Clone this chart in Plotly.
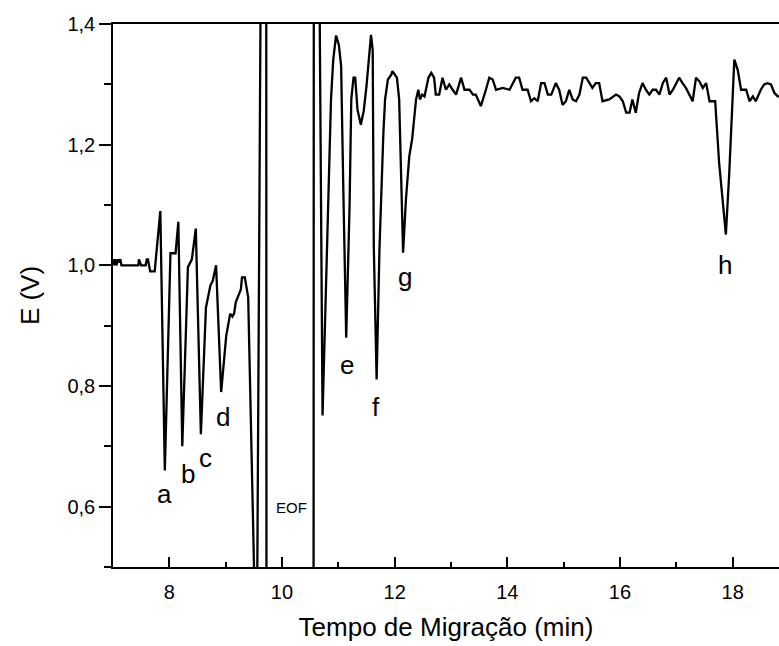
import plotly.graph_objects as go

# Electropherogram trace (time in min, potential in V)
t_pre = [7.00, 7.02, 7.03, 7.05, 7.06, 7.09, 7.10, 7.13, 7.15, 7.20, 7.22, 7.30, 7.40, 7.45, 7.46,
         7.50, 7.58, 7.60, 7.62, 7.64, 7.66, 7.74, 7.84, 7.92, 8.02, 8.11, 8.16, 8.23, 8.33, 8.40,
         8.47, 8.56, 8.65, 8.73, 8.77, 8.83, 8.92, 9.01, 9.05, 9.08, 9.12, 9.15, 9.18, 9.27, 9.29,
         9.34, 9.40, 9.48, 9.52]
e_pre = [1.00, 1.01, 1.00, 1.01, 1.00, 1.01, 1.005, 1.01, 1.00, 1.00, 1.00, 1.00, 1.00, 1.00, 1.01,
         1.00, 1.00, 1.01, 1.01, 1.00, 0.99, 0.99, 1.09, 0.66, 1.02, 1.02, 1.072, 0.70, 0.997, 1.01,
         1.061, 0.72, 0.93, 0.967, 0.974, 1.00, 0.79, 0.883, 0.902, 0.92, 0.915, 0.92, 0.939, 0.96, 0.98,
         0.98, 0.947, 0.596, 0.40]

t_eof = [9.55, 9.63, 9.72, 9.725, 10.56, 10.565, 10.655]
e_eof = [0.30, 1.60, 1.60, 0.30, 0.30, 1.60, 1.60]

t_post = [10.72, 10.80, 10.84, 10.87, 10.91, 10.96, 11.01, 11.05, 11.09, 11.14, 11.20, 11.23, 11.27,
          11.30, 11.34, 11.40, 11.43, 11.45, 11.50, 11.54, 11.58, 11.61, 11.63, 11.68, 11.73, 11.80,
          11.83, 11.88, 11.94, 11.96, 12.01, 12.04, 12.08, 12.15, 12.20, 12.26, 12.31, 12.35, 12.38,
          12.42, 12.45, 12.49, 12.53, 12.60]
e_post = [0.751, 1.03, 1.15, 1.275, 1.341, 1.381, 1.365, 1.33, 1.12, 0.880, 1.10, 1.275, 1.311,
          1.311, 1.258, 1.233, 1.247, 1.255, 1.297, 1.347, 1.382, 1.357, 1.03, 0.811, 1.026, 1.22,
          1.275, 1.308, 1.316, 1.322, 1.316, 1.311, 1.275, 1.021, 1.109, 1.181, 1.209, 1.253, 1.275,
          1.291, 1.275, 1.283, 1.280, 1.311]

t_base = [12.65, 12.70, 12.73, 12.79, 12.85, 12.91, 12.97, 13.03, 13.09, 13.18, 13.24, 13.33, 13.39,
          13.44, 13.53, 13.62, 13.68, 13.74, 13.80, 13.92, 14.04, 14.15, 14.21, 14.27, 14.36, 14.42,
          14.48, 14.54, 14.60, 14.66, 14.72, 14.78, 14.86, 14.92, 14.98, 15.04, 15.10, 15.16, 15.22,
          15.28, 15.34, 15.40, 15.46, 15.51, 15.57, 15.63, 15.69, 15.81, 15.93, 15.99, 16.05, 16.11,
          16.17, 16.22, 16.28, 16.34, 16.40, 16.46, 16.52, 16.58, 16.64, 16.70, 16.76, 16.82, 16.88,
          16.94, 16.99, 17.05, 17.11, 17.17, 17.23, 17.29, 17.35, 17.41, 17.47, 17.53, 17.59, 17.65]
e_base = [1.319, 1.311, 1.283, 1.283, 1.311, 1.291, 1.300, 1.291, 1.283, 1.311, 1.291, 1.291, 1.283,
          1.283, 1.264, 1.291, 1.311, 1.308, 1.291, 1.294, 1.291, 1.311, 1.311, 1.291, 1.291, 1.272,
          1.277, 1.272, 1.302, 1.302, 1.283, 1.283, 1.302, 1.291, 1.266, 1.272, 1.291, 1.275, 1.272,
          1.283, 1.311, 1.311, 1.302, 1.294, 1.302, 1.302, 1.272, 1.275, 1.283, 1.280, 1.272, 1.253,
          1.253, 1.275, 1.253, 1.286, 1.302, 1.291, 1.283, 1.291, 1.291, 1.283, 1.302, 1.311, 1.283,
          1.291, 1.300, 1.311, 1.302, 1.294, 1.283, 1.272, 1.311, 1.305, 1.294, 1.302, 1.272, 1.272]

t_h = [17.69, 17.76, 17.88, 17.94, 18.03, 18.09, 18.15, 18.24, 18.30, 18.36, 18.41, 18.50, 18.56,
       18.62, 18.68, 18.74, 18.80, 18.83]
e_h = [1.272, 1.17, 1.051, 1.153, 1.341, 1.324, 1.291, 1.291, 1.272, 1.280, 1.272, 1.291, 1.300,
       1.302, 1.300, 1.286, 1.280, 1.280]

peak_labels = ["a", "b", "c", "d", "e", "f", "g", "h"]
label_t = [7.91, 8.34, 8.64, 8.96, 11.16, 11.67, 12.19, 17.87]
label_e = [0.621, 0.654, 0.680, 0.748, 0.834, 0.765, 0.980, 1.0]
eof_t, eof_e = 10.17, 0.598

t = t_pre + t_eof + t_post + t_base + t_h
e = e_pre + e_eof + e_post + e_base + e_h

fig = go.Figure()
fig.add_trace(go.Scatter(x=t, y=e, mode="lines", line=dict(color="black", width=2.3),
                         showlegend=False, hoverinfo="skip"))

font_main = "Liberation Sans, Arial, sans-serif"
for lab, xx, yy in zip(peak_labels, label_t, label_e):
    fig.add_annotation(x=xx, y=yy, text=lab, showarrow=False,
                       font=dict(family=font_main, size=26, color="black"))
fig.add_annotation(x=eof_t, y=eof_e, text="EOF", showarrow=False,
                   font=dict(family=font_main, size=15, color="black"))

fig.update_layout(
    width=779, height=646,
    margin=dict(l=113, r=0, t=24, b=79),
    paper_bgcolor="white", plot_bgcolor="white",
    separators=",.",
    font=dict(family=font_main, color="black"),
    xaxis=dict(range=[7, 18.823], showgrid=False, zeroline=False,
               showline=True, linecolor="black", linewidth=1.5, mirror=True,
               ticks="inside", ticklen=10, tickwidth=1.5, tickcolor="black",
               tick0=0, dtick=2, tickfont=dict(size=20), ticklabelstandoff=6,
               minor=dict(dtick=1, ticks="inside", ticklen=5, tickwidth=1.5, tickcolor="black"),
               title=dict(text="Tempo de Migração (min)", font=dict(size=26), standoff=16)),
    yaxis=dict(range=[0.5, 1.4], showgrid=False, zeroline=False,
               showline=True, linecolor="black", linewidth=1.5, mirror=False,
               ticks="outside", ticklen=12, tickwidth=1.5, tickcolor="black",
               tick0=0, dtick=0.2, tickformat=".1f", tickfont=dict(size=20),
               minor=dict(dtick=0.1, ticks="outside", ticklen=7, tickwidth=1.5, tickcolor="black"),
               title=dict(text="E (V)", font=dict(size=26), standoff=20)),
)

fig.write_html("out.html")
